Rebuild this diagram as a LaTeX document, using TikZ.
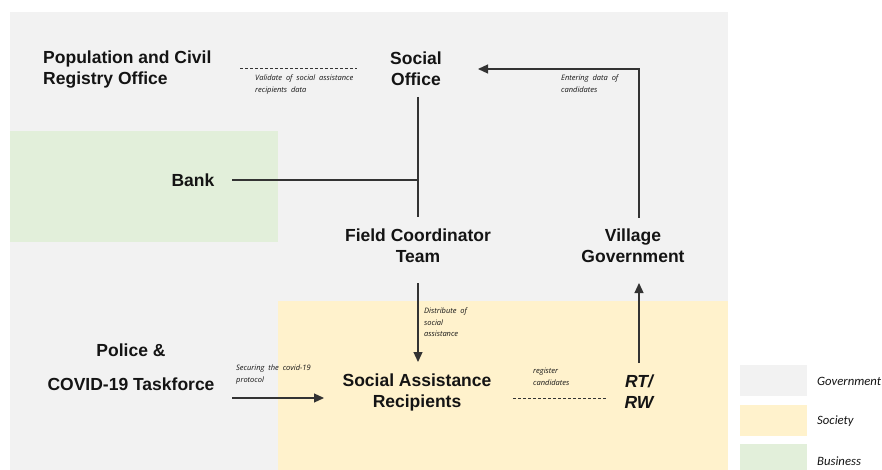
\documentclass[tikz,border=0pt]{standalone}
\usepackage{fontspec}
\setmainfont{Liberation Sans}
\newfontfamily\notefont{Open Sans}
\newfontfamily\legfont{Carlito}
\usetikzlibrary{arrows.meta}
\definecolor{govbg}{HTML}{F2F2F2}
\definecolor{socbg}{HTML}{FFF2CC}
\definecolor{busbg}{HTML}{E2EFDA}
\definecolor{lineclr}{HTML}{333333}
\definecolor{txtclr}{HTML}{141414}
\tikzset{
  actor/.style={font=\fontsize{17.5}{21}\selectfont\bfseries, text=txtclr, align=center, inner sep=0pt},
  note/.style={font=\notefont\itshape\fontsize{7.5}{11.5}\selectfont, text=txtclr, align=left, inner sep=0pt, anchor=north west},
  legtext/.style={font=\legfont\itshape\fontsize{12.7}{14}\selectfont, text=txtclr, anchor=west, inner sep=0pt},
  conn/.style={draw=lineclr, line width=1.2pt},
  arr/.style={conn, -{Triangle[length=10pt,width=9pt]}},
  dline/.style={conn, line width=0.9pt, dash pattern=on 3pt off 2pt},
}
\begin{document}
\begin{tikzpicture}[x=1pt,y=-1pt]
\useasboundingbox (0,0) rectangle (882,470);
% backgrounds
\fill[govbg] (10,12) rectangle (728,470);
\fill[busbg] (10,131) rectangle (278,242);
\fill[socbg] (278,301) rectangle (728,470);
% legend
\fill[govbg] (740,365) rectangle (807,396);
\fill[socbg] (740,405) rectangle (807,436);
\fill[busbg] (740,444) rectangle (807,470);
\node[legtext] (lg) at (817,381) {Government};
\node[legtext] (ls) at (817,421) {Society};
\node[legtext] (lb) at (817,461) {Business};
% actors
\node[actor, align=left, anchor=west] (pop) at (43,70) {Population and Civil\\Registry Office};
\node[actor] (so) at (416,69) {Social\\Office};
\node[actor] (bank) at (193,180) {Bank};
\node[actor] (fct) at (418,246) {Field Coordinator\\Team};
\node[actor] (vg) at (633,246) {Village\\Government};
\node[actor] (pol) at (131,367) {Police \&\\[13pt]COVID-19 Taskforce};
\node[actor] (sar) at (417,392) {Social Assistance\\Recipients};
\node[actor, font=\fontsize{17.5}{21}\selectfont\bfseries\itshape] (rt) at (639,392) {RT/\\RW};
% notes
\node[note] (n1) at (255,75) {Validate \ of \ social \ assistance\\recipients \ data};
\node[note] (n2) at (561,75) {Entering \ data \ of\\candidates};
\node[note] (n3) at (424,308) {Distribute \ of\\social\\assistance};
\node[note] (n4) at (236,365) {Securing \ the \ covid-19\\protocol};
\node[note] (n5) at (533,368) {register\\candidates};
% connector end points
\coordinate (popE) at (240,68);
\coordinate (soW) at (357,68);
\coordinate (soS) at (418,97);
\coordinate (fctN) at (418,217);
\coordinate (bankE) at (232,180);
\coordinate (jb) at (418,180);
\coordinate (fctS) at (418,283);
\coordinate (sarN) at (418,362);
\coordinate (vgN) at (639,218);
\coordinate (soE) at (478,69);
\coordinate (rtN) at (639,363);
\coordinate (vgS) at (639,283);
\coordinate (polE) at (232,398);
\coordinate (sarW) at (324,398);
\coordinate (sarE) at (513,398);
\coordinate (rtW) at (607,398);
% connectors
\draw[dline] (popE) -- (soW);
\draw[conn] (soS) -- (fctN);
\draw[conn] (bankE) -- (jb);
\draw[arr] (fctS) -- (sarN);
\draw[arr] (vgN) |- (soE);
\draw[arr] (rtN) -- (vgS);
\draw[arr] (polE) -- (sarW);
\draw[dline] (sarE) -- (rtW);
\end{tikzpicture}
\end{document}
